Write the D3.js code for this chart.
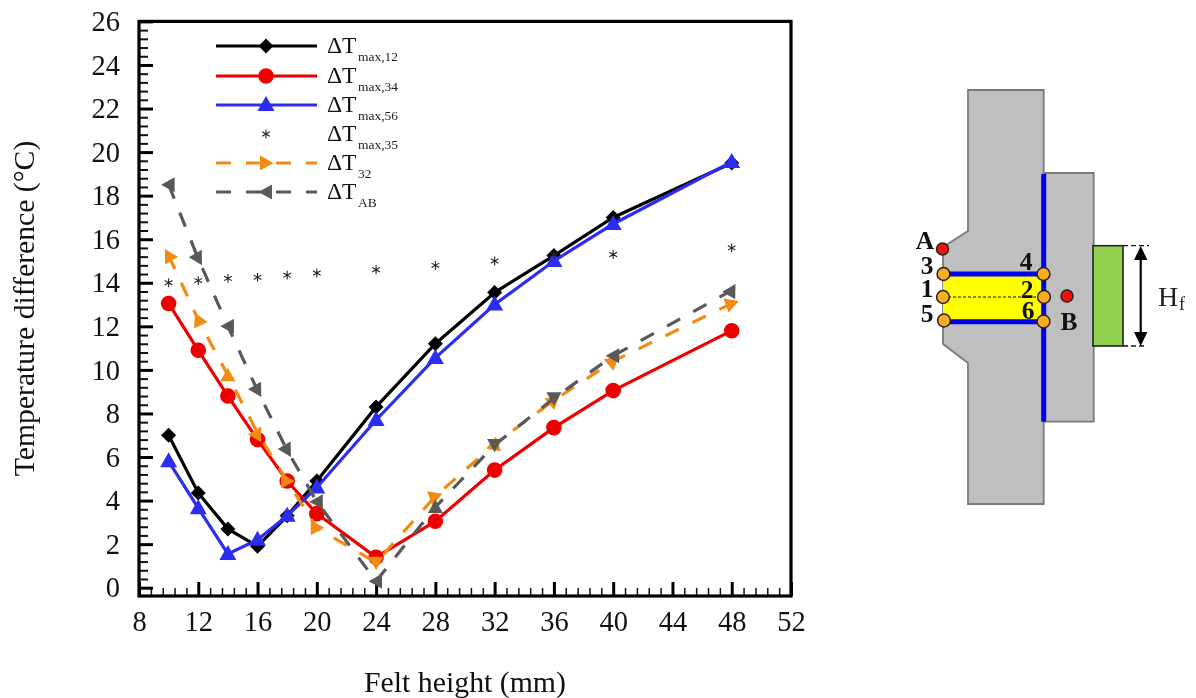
<!DOCTYPE html>
<html><head><meta charset="utf-8">
<script src="https://cdn.jsdelivr.net/npm/d3@7"></script>
<style>html,body{margin:0;padding:0;background:#fff}svg{display:block;filter:blur(0.35px)}text{font-family:"Liberation Serif",serif}</style>
</head><body><svg id="c" width="1196" height="698"></svg>
<script>
const feltHeight=[10,12,14,16,18,20,24,28,32,36,40,48];
const dtMax12=[7.0,4.35,2.7,1.9,3.3,4.9,8.3,11.2,13.55,15.25,17.0,19.5];
const dtMax34=[13.05,10.9,8.8,6.8,4.9,3.4,1.4,3.05,5.4,7.35,9.05,11.8];
const dtMax56=[5.8,3.65,1.55,2.2,3.3,4.6,7.7,10.55,13.0,15.0,16.7,19.55];
const dtMax35=[14.0,14.1,14.2,14.25,14.35,14.45,14.6,14.8,15.0,15.3,15.3,15.6];
const dt32=[15.25,12.3,9.75,7.1,4.9,2.75,1.15,4.2,6.6,8.6,10.4,13.05];
const dtAB=[18.5,15.1,12.0,9.05,6.3,3.95,0.3,3.7,6.55,8.7,10.65,13.65];
const orangeAngles=[-120,-115,-90,-60,0,0,90,-20,-80,-40,-40,-20];
const grayAngles=[180,60,180,60,60,180,180,-90,90,90,180,-60];
const xTicks=d3.range(8,53,4);
const yTicks=d3.range(0,27,2);
const legendLabels=["max,12","max,34","max,56","max,35","32","AB"];

const svg=d3.select("#c");
const L=139,R=791,T=21.4,y0=587.7,B=596;
const x=d3.scaleLinear().domain([8,52]).range([L,R]);
const y=d3.scaleLinear().domain([0,26]).range([y0,T]);

const triPath=d3.line()([[7.5,0],[-6,-7.5],[-6,7.5]])+"Z";
const upTri=d3.line()([[0,-9],[8.5,6],[-8.5,6]])+"Z";
const diamond=d3.line()([[0,-7.5],[7.5,0],[0,7.5],[-7.5,0]])+"Z";
const star=d3.symbol().type(d3.symbolAsterisk).size(55)();

function minorVals(ticks,step){const o=[];for(let i=0;i<ticks.length-1;i++)for(let k=1;k<5;k++)o.push(ticks[i]+k*step);return o;}
const gx=svg.append("g").attr("transform",`translate(0,${B})`);
gx.append("g").call(d3.axisBottom(x).tickValues(minorVals(xTicks,0.8)).tickSizeInner(-8).tickSizeOuter(0).tickFormat(""))
  .call(g=>{g.select(".domain").remove();g.selectAll("line").attr("stroke","#111").attr("stroke-width",1.5)});
gx.append("g").call(d3.axisBottom(x).tickValues(xTicks).tickSizeInner(-14).tickSizeOuter(0).tickFormat(d3.format("d")))
  .call(g=>{g.select(".domain").remove();g.selectAll("line").attr("stroke","#000").attr("stroke-width",3);
    g.selectAll("text").attr("font-size",28.5).attr("fill","#111").attr("dy",0).attr("y",35)});
const gy=svg.append("g").attr("transform",`translate(${L},0)`);
gy.append("g").call(d3.axisLeft(y).tickValues(minorVals(yTicks,0.4)).tickSizeInner(-9).tickSizeOuter(0).tickFormat(""))
  .call(g=>{g.select(".domain").remove();g.selectAll("line").attr("stroke","#111").attr("stroke-width",2)});
gy.append("g").call(d3.axisLeft(y).tickValues(yTicks).tickSizeInner(-14).tickSizeOuter(0).tickFormat(d3.format("d")))
  .call(g=>{g.select(".domain").remove();g.selectAll("line").attr("stroke","#000").attr("stroke-width",3);
    g.selectAll("text").attr("font-size",28.5).attr("fill","#111").attr("x",-19).attr("dy","0.32em")});
svg.append("rect").attr("x",L).attr("y",T).attr("width",R-L).attr("height",B-T).attr("fill","none").attr("stroke","#000").attr("stroke-width",3.2);

svg.append("text").attr("x",465).attr("y",692).attr("text-anchor","middle").attr("font-size",29.8).attr("fill","#111").text("Felt height (mm)");
svg.append("text").attr("transform","translate(34,308.5) rotate(-90)").attr("text-anchor","middle").attr("font-size",29.7).attr("fill","#111").text("Temperature difference (°C)");

const line=d3.line().x((d,i)=>x(feltHeight[i])).y(d=>y(d));
function series(vals,color,shape,dash,angles){
  const g=svg.append("g");
  g.append("path").attr("d",line(vals)).attr("fill","none").attr("stroke",color).attr("stroke-width",3.2)
    .attr("stroke-dasharray",dash||null);
  g.selectAll("path.m").data(vals).join("path").attr("class","m").attr("d",shape).attr("fill",color)
    .attr("transform",(d,i)=>`translate(${x(feltHeight[i])},${y(d)})`+(angles?` rotate(${angles[i]})`:""));
}
const circle=d3.symbol().type(d3.symbolCircle).size(Math.PI*7.8*7.8)();
const BLUE="#2c2cf5",RED="#ee0000",ORG="#f28b12",GRY="#595959";
series(dtMax12,"#000",diamond);
series(dtMax34,RED,circle);
series(dtMax56,BLUE,upTri);
svg.append("g").selectAll("path").data(dtMax35).join("path").attr("d",star).attr("fill","none").attr("stroke","#222").attr("stroke-width",1.1)
  .attr("transform",(d,i)=>`translate(${x(feltHeight[i])},${y(d)})`);
series(dt32,ORG,triPath,"15,15",orangeAngles);
series(dtAB,GRY,triPath,"15,15",grayAngles);

const legY=[46,76,105,134,163,192];
const legStyle=[["#000",diamond,null,0],[RED,circle,null,0],[BLUE,upTri,null,0],[null,star,null,0],[ORG,triPath,"15,15",0],[GRY,triPath,"15,15",180]];
legStyle.forEach((s,i)=>{
  const g=svg.append("g").attr("transform",`translate(0,${legY[i]})`);
  if(s[0]){
    g.append("line").attr("x1",216).attr("x2",317).attr("stroke",s[0]).attr("stroke-width",3).attr("stroke-dasharray",s[2]);
    g.append("path").attr("d",s[1]).attr("fill",s[0]).attr("transform",`translate(266,0) rotate(${s[3]})`);
  } else g.append("path").attr("d",s[1]).attr("fill","none").attr("stroke","#222").attr("stroke-width",1.1).attr("transform","translate(266,0)");
  g.append("text").attr("x",327).attr("y",7).attr("font-size",23.5).attr("fill","#111").text("ΔT");
  g.append("text").attr("x",358).attr("y",15).attr("font-size",13.5).attr("fill","#222").text(legendLabels[i]);
});

const sch=svg.append("g");
const GR="#bfbfbf",ED="#7a7a7a";
sch.append("path").attr("d","M968,90H1043.7V504H968V363L943,344V247L968,231Z").attr("fill",GR).attr("stroke",ED).attr("stroke-width",1.8);
sch.append("path").attr("d","M1043.7,173H1093.7V421.7H1043.7Z").attr("fill",GR).attr("stroke",ED).attr("stroke-width",1.8);
sch.append("rect").attr("x",943).attr("y",274).attr("width",100).attr("height",48).attr("fill","#ffff00");
sch.append("line").attr("x1",943).attr("x2",1036).attr("y1",297).attr("y2",297).attr("stroke","#111").attr("stroke-width",1).attr("stroke-dasharray","3,2");
sch.append("path").attr("d","M1043.7,174V421.7M943,274H1043.7M943,321.7H1043.7").attr("fill","none").attr("stroke","#0000f0").attr("stroke-width",5);
sch.append("rect").attr("x",1093).attr("y",245.7).attr("width",30).attr("height",100.3).attr("fill","#92d050").attr("stroke","#222").attr("stroke-width",1.6);
sch.append("path").attr("d","M1123,245.7H1149M1123,346H1145").attr("stroke","#111").attr("stroke-width",1.3).attr("stroke-dasharray","5,3").attr("fill","none");
sch.append("path").attr("d","M1140.7,255V338").attr("stroke","#000").attr("stroke-width",2.2);
sch.append("path").attr("d","M1140.7,246L1134,260H1147.4ZM1140.7,346L1134,332H1147.4Z").attr("fill","#000");
[[943.5,274],[943,297],[944,320.5],[1043.5,274],[1044,297],[1043.5,321.5]].forEach(p=>
  sch.append("circle").attr("cx",p[0]).attr("cy",p[1]).attr("r",6.4).attr("fill","#fbac20").attr("stroke","#222").attr("stroke-width",1.5));
[[942.5,249],[1067,296]].forEach(p=>
  sch.append("circle").attr("cx",p[0]).attr("cy",p[1]).attr("r",6).attr("fill","#f01010").attr("stroke","#222").attr("stroke-width",1.5));
[["A",925,249],["3",927,274],["1",927,297],["5",927,321.5],["4",1026,270],["2",1027,298],["6",1028,319],["B",1069,330]].forEach(t=>
  sch.append("text").attr("x",t[1]).attr("y",t[2]).attr("text-anchor","middle").attr("font-size",25.5).attr("font-weight","bold").attr("fill","#111").text(t[0]));
sch.append("text").attr("x",1158).attr("y",306).attr("font-size",28).attr("fill","#222").text("H");
sch.append("text").attr("x",1179).attr("y",310).attr("font-size",18).attr("fill","#222").text("f");
</script></body></html>
